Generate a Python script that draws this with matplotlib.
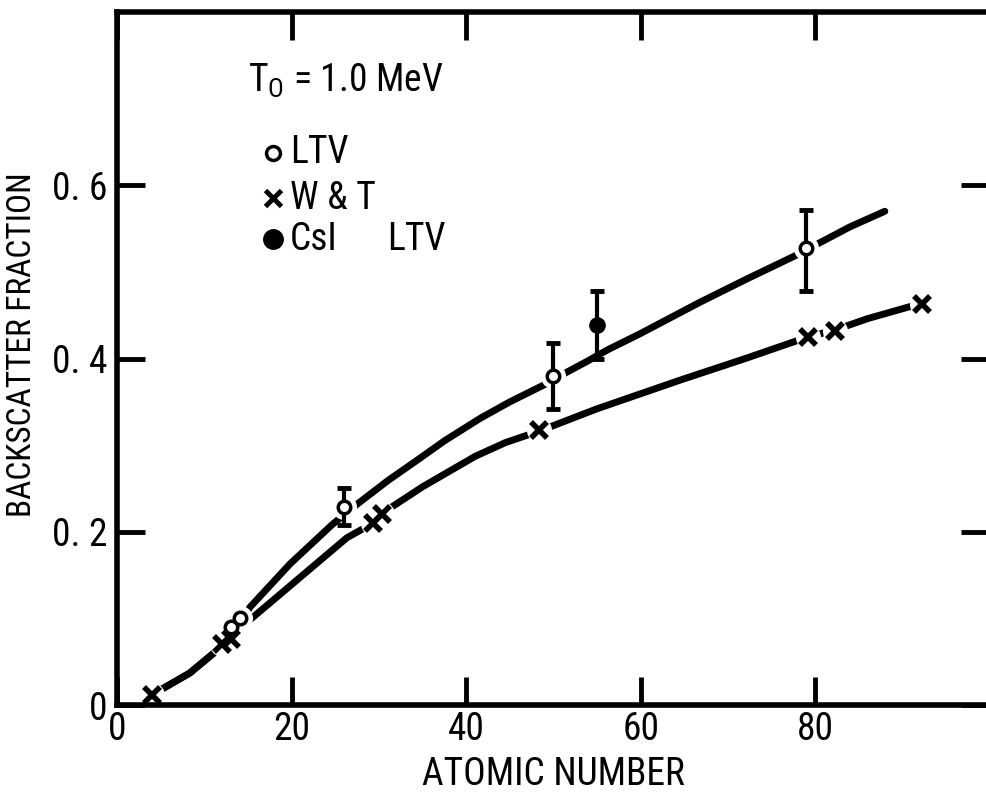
import matplotlib
matplotlib.use('Agg')
import matplotlib.pyplot as plt

plt.rcParams['font.family'] = ['Roboto Condensed', 'Liberation Sans Narrow', 'Liberation Sans', 'DejaVu Sans']
plt.rcParams['font.size'] = 26

# LTV 数据（空心圆，带误差棒）
ltv_z = [13, 14, 26, 50, 79]
ltv_f = [0.090, 0.100, 0.229, 0.380, 0.528]
ltv_lo = [0.0, 0.0, 0.021, 0.038, 0.050]
ltv_hi = [0.0, 0.0, 0.022, 0.038, 0.044]

# CsI LTV（实心圆）
csi_z = [55]
csi_f = [0.439]
csi_lo = [0.039]
csi_hi = [0.039]

# W & T 数据（叉号）
wt_z = [4, 12, 13, 29.3, 30.3, 48.3, 79.2, 82.3, 92.3]
wt_f = [0.012, 0.070, 0.076, 0.210, 0.221, 0.317, 0.425, 0.432, 0.463]

# 手绘拟合曲线（从图上读取的点）
upper_z = [4, 8.3, 12, 13.5, 15.2, 19.8, 24.7, 27.5, 31, 34.7, 37.5, 41.6, 45, 49, 51.3, 53.9,
           56.2, 60, 66.8, 72.2, 78.2, 80.6, 84, 88]
upper_f = [0.012, 0.037, 0.068, 0.085, 0.113, 0.163, 0.209, 0.232, 0.259, 0.285, 0.305, 0.331,
           0.350, 0.370, 0.383, 0.397, 0.410, 0.429, 0.465, 0.492, 0.521, 0.534, 0.552, 0.570]
lower_z = [4, 8.3, 12, 13.5, 15.5, 20.9, 26.3, 29.3, 30.3, 35, 41, 44.5, 48.3, 55, 64.5, 72,
           79.2, 82.3, 86, 90.9, 92.3]
lower_f = [0.012, 0.037, 0.068, 0.085, 0.101, 0.147, 0.193, 0.210, 0.221, 0.252, 0.287, 0.303,
           0.316, 0.342, 0.375, 0.400, 0.425, 0.433, 0.446, 0.460, 0.463]

fig = plt.figure(figsize=(9.87, 7.92), dpi=100)
ax = fig.add_axes([0.119, 0.1098, 0.8835, 0.875])

ax.plot(upper_z, upper_f, color='black', lw=5, solid_capstyle='round',
        solid_joinstyle='round', zorder=2)
ax.plot(lower_z, lower_f, color='black', lw=5, solid_capstyle='round',
        solid_joinstyle='round', zorder=2)

# 标记周围留白（模仿原图线条断开）
ax.plot(ltv_z + csi_z + wt_z, ltv_f + csi_f + wt_f, 'o', color='white', ms=17, zorder=2.5)

ax.errorbar(ltv_z, ltv_f, yerr=[ltv_lo, ltv_hi], fmt='none', ecolor='black',
            elinewidth=3, capsize=5, capthick=3.5, zorder=3)
ax.errorbar(csi_z, csi_f, yerr=[csi_lo, csi_hi], fmt='none', ecolor='black',
            elinewidth=3, capsize=5, capthick=3.5, zorder=3)
ax.plot(ltv_z, ltv_f, 'o', mfc='white', mec='black', mew=2.5, ms=9, zorder=4)
ax.plot(csi_z, csi_f, 'o', color='black', ms=11, zorder=4)
ax.plot(wt_z, wt_f, 'x', color='black', mew=4, ms=11, zorder=4)

ax.set_xlim(0, 100)
ax.set_ylim(0, 0.8)
ax.set_xticks([0, 20, 40, 60, 80])
ax.set_xticklabels(['0', '20', '40', '60', '80'])
ax.set_yticks([0, 0.2, 0.4, 0.6])
ax.set_yticklabels(['0', '0. 2', '0. 4', '0. 6'])
ax.tick_params(direction='in', length=20, width=3.5, top=True, right=True,
               labelsize=27)
ax.tick_params(axis='x', pad=4)
ax.tick_params(axis='y', pad=7)
for s in ['left', 'bottom', 'top']:
    ax.spines[s].set_linewidth(4)
ax.spines['right'].set_visible(False)

ax.set_xlabel('ATOMIC NUMBER', fontsize=27, labelpad=6)
ax.set_ylabel('BACKSCATTER FRACTION', fontsize=24, labelpad=10, y=0.52)

# 图例（手写风格）
ax.text(0.15, 0.90, r'T$_{\mathregular{O}}$ = 1.0 MeV', transform=ax.transAxes,
        fontsize=27, va='center')
ax.plot([0.178], [0.797], 'o', mfc='white', mec='black', mew=2.5, ms=10,
        transform=ax.transAxes, clip_on=False)
ax.text(0.198, 0.797, 'LTV', transform=ax.transAxes, va='center', fontsize=27)
ax.plot([0.178], [0.731], 'x', color='black', mew=3.5, ms=11,
        transform=ax.transAxes, clip_on=False)
ax.text(0.198, 0.731, 'W & T', transform=ax.transAxes, va='center', fontsize=27)
ax.plot([0.178], [0.672], 'o', color='black', ms=14,
        transform=ax.transAxes, clip_on=False)
ax.text(0.198, 0.672, 'CsI', transform=ax.transAxes, va='center', fontsize=27)
ax.text(0.309, 0.672, 'LTV', transform=ax.transAxes, va='center', fontsize=27)

fig.savefig('out.png', dpi=100)
